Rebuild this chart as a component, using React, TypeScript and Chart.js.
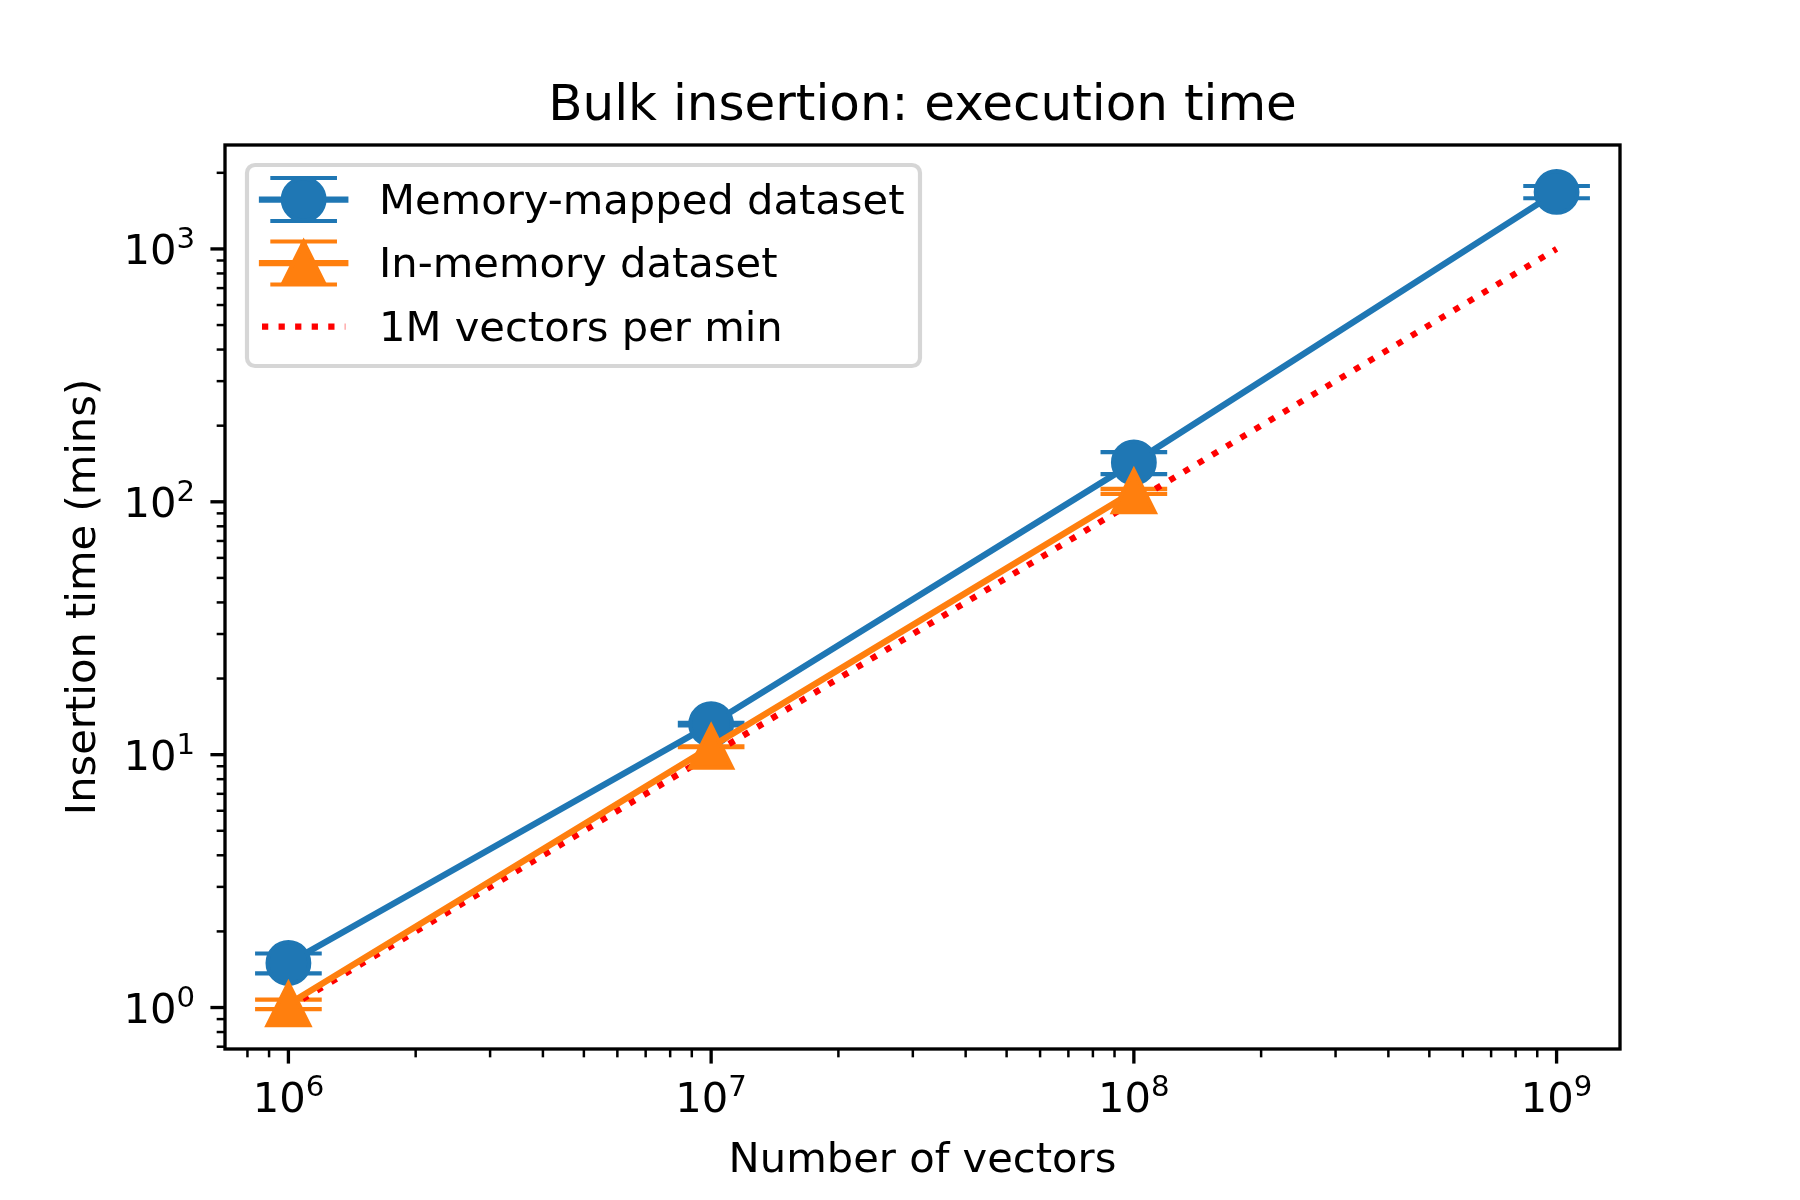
import { useEffect, useRef } from 'react';
import { Chart, registerables } from 'chart.js';

Chart.register(...registerables);

// ---- data ----
const vectorCounts = [1e6, 1e7, 1e8, 1e9];
const mmapMeans = [1.5, 13.2, 143, 1680];
const mmapErrs = [0.135, 0.15, 14.25, 93];
const inMemMeans = [1.03, 10.75, 110];
const inMemErrs = [0.045, 0.05, 2.5];
const refMinutes = [1, 10, 100, 1000];

const xMajorTicks = [1e6, 1e7, 1e8, 1e9];
const xTickExponents = ['6', '7', '8', '9'];
const yMajorTicks = [1, 10, 100, 1000];
const yTickExponents = ['0', '1', '2', '3'];

const seriesLabels = ['Memory-mapped dataset', 'In-memory dataset', '1M vectors per min'];
const titleText = 'Bulk insertion: execution time';
const xTitle = 'Number of vectors';
const yTitle = 'Insertion time (mins)';

// ---- style ----
const PT = 300 / 72;
const LW = 1.5 * PT;
const BLUE = '#1f77b4';
const ORANGE = '#ff7f0e';
const RED = '#ff0000';
const FONT = '"DejaVu Sans", sans-serif';
const FS = 10 * PT;
const FS_SUP = 7 * PT;
const MARKER_HALF = 5 * PT;
const CAP_HALF = 8 * PT;

const X_MIN = Math.pow(10, 5.85);
const X_MAX = Math.pow(10, 9.15);
const Y_MIN = Math.pow(10, -0.164);
const Y_MAX = Math.pow(10, 3.411);

function drawCircle(ctx: CanvasRenderingContext2D, x: number, y: number, color: string) {
  ctx.save();
  ctx.beginPath();
  ctx.arc(x, y, MARKER_HALF, 0, Math.PI * 2);
  ctx.fillStyle = color;
  ctx.strokeStyle = color;
  ctx.lineWidth = PT;
  ctx.fill();
  ctx.stroke();
  ctx.restore();
}

function drawTriangle(ctx: CanvasRenderingContext2D, x: number, y: number, color: string) {
  const h = MARKER_HALF;
  ctx.save();
  ctx.beginPath();
  ctx.moveTo(x, y - h);
  ctx.lineTo(x - h, y + h);
  ctx.lineTo(x + h, y + h);
  ctx.closePath();
  ctx.fillStyle = color;
  ctx.strokeStyle = color;
  ctx.lineWidth = PT;
  ctx.lineJoin = 'miter';
  ctx.fill();
  ctx.stroke();
  ctx.restore();
}

function drawErrorBar(ctx: CanvasRenderingContext2D, x: number, yTop: number, yBot: number, color: string) {
  ctx.save();
  ctx.strokeStyle = color;
  ctx.lineCap = 'butt';
  ctx.lineWidth = LW;
  ctx.beginPath();
  ctx.moveTo(x, yTop);
  ctx.lineTo(x, yBot);
  ctx.stroke();
  ctx.lineWidth = PT;
  ctx.beginPath();
  ctx.moveTo(x - CAP_HALF, yTop);
  ctx.lineTo(x + CAP_HALF, yTop);
  ctx.moveTo(x - CAP_HALF, yBot);
  ctx.lineTo(x + CAP_HALF, yBot);
  ctx.stroke();
  ctx.restore();
}

function drawPow(ctx: CanvasRenderingContext2D, exp: string, x: number, baseline: number, align: 'center' | 'right') {
  ctx.font = `${FS}px ${FONT}`;
  const w1 = ctx.measureText('10').width;
  ctx.font = `${FS_SUP}px ${FONT}`;
  const w2 = ctx.measureText(exp).width;
  const total = w1 + w2;
  const start = align === 'center' ? x - total / 2 : x - total;
  ctx.textAlign = 'left';
  ctx.textBaseline = 'alphabetic';
  ctx.fillStyle = '#000';
  ctx.font = `${FS}px ${FONT}`;
  ctx.fillText('10', start, baseline);
  ctx.font = `${FS_SUP}px ${FONT}`;
  ctx.fillText(exp, start + w1, baseline - 16);
}

const mplPlugin = {
  id: 'mplLook',
  beforeDraw(chart: any) {
    const ctx = chart.ctx as CanvasRenderingContext2D;
    ctx.save();
    ctx.fillStyle = '#ffffff';
    ctx.fillRect(0, 0, chart.width, chart.height);
    ctx.restore();
  },
  beforeDatasetsDraw(chart: any) {
    const ctx = chart.ctx as CanvasRenderingContext2D;
    const xs = chart.scales.x;
    const ys = chart.scales.y;
    mmapMeans.forEach((m, i) => {
      const px = xs.getPixelForValue(vectorCounts[i]);
      drawErrorBar(ctx, px, ys.getPixelForValue(m + mmapErrs[i]), ys.getPixelForValue(m - mmapErrs[i]), BLUE);
    });
    inMemMeans.forEach((m, i) => {
      const px = xs.getPixelForValue(vectorCounts[i]);
      drawErrorBar(ctx, px, ys.getPixelForValue(m + inMemErrs[i]), ys.getPixelForValue(m - inMemErrs[i]), ORANGE);
    });
  },
  afterDatasetDraw(chart: any, args: any) {
    const ctx = chart.ctx as CanvasRenderingContext2D;
    const xs = chart.scales.x;
    const ys = chart.scales.y;
    if (args.index === 0) {
      mmapMeans.forEach((m, i) => drawCircle(ctx, xs.getPixelForValue(vectorCounts[i]), ys.getPixelForValue(m), BLUE));
    } else if (args.index === 1) {
      inMemMeans.forEach((m, i) => drawTriangle(ctx, xs.getPixelForValue(vectorCounts[i]), ys.getPixelForValue(m), ORANGE));
    }
  },
  afterDraw(chart: any) {
    const ctx = chart.ctx as CanvasRenderingContext2D;
    const a = chart.chartArea;
    const xs = chart.scales.x;
    const ys = chart.scales.y;
    ctx.save();

    // spines
    ctx.strokeStyle = '#000';
    ctx.lineWidth = 0.8 * PT;
    ctx.lineJoin = 'miter';
    ctx.strokeRect(a.left, a.top, a.right - a.left, a.bottom - a.top);

    // ticks
    const majorLen = 3.5 * PT;
    const minorLen = 2 * PT;
    ctx.lineCap = 'butt';
    const xMin = xs.min, xMax = xs.max, yMin = ys.min, yMax = ys.max;
    for (let e = Math.floor(Math.log10(xMin)); e <= Math.ceil(Math.log10(xMax)); e++) {
      for (let k = 1; k <= 9; k++) {
        const v = k * Math.pow(10, e);
        if (v < xMin || v > xMax) continue;
        const px = xs.getPixelForValue(v);
        ctx.lineWidth = k === 1 ? 0.8 * PT : 0.6 * PT;
        ctx.beginPath();
        ctx.moveTo(px, a.bottom);
        ctx.lineTo(px, a.bottom + (k === 1 ? majorLen : minorLen));
        ctx.stroke();
      }
    }
    for (let e = Math.floor(Math.log10(yMin)); e <= Math.ceil(Math.log10(yMax)); e++) {
      for (let k = 1; k <= 9; k++) {
        const v = k * Math.pow(10, e);
        if (v < yMin || v > yMax) continue;
        const py = ys.getPixelForValue(v);
        ctx.lineWidth = k === 1 ? 0.8 * PT : 0.6 * PT;
        ctx.beginPath();
        ctx.moveTo(a.left, py);
        ctx.lineTo(a.left - (k === 1 ? majorLen : minorLen), py);
        ctx.stroke();
      }
    }

    // tick labels
    xMajorTicks.forEach((v, i) => {
      drawPow(ctx, xTickExponents[i], xs.getPixelForValue(v), a.bottom + 63, 'center');
    });
    yMajorTicks.forEach((v, i) => {
      drawPow(ctx, yTickExponents[i], a.left - 30, ys.getPixelForValue(v) + 15, 'right');
    });

    // titles
    const cx = (a.left + a.right) / 2;
    const cy = (a.top + a.bottom) / 2;
    ctx.fillStyle = '#000';
    ctx.textAlign = 'center';
    ctx.textBaseline = 'alphabetic';
    ctx.font = `${12 * PT}px ${FONT}`;
    ctx.fillText(titleText, cx, 120);
    ctx.font = `${FS}px ${FONT}`;
    ctx.fillText(xTitle, cx, 1172);
    ctx.save();
    ctx.translate(95, cy);
    ctx.rotate(-Math.PI / 2);
    ctx.fillText(yTitle, 0, 0);
    ctx.restore();

    // legend
    const lx = 247, ly = 165, lw = 673, lh = 201, r = 8;
    ctx.beginPath();
    ctx.moveTo(lx + r, ly);
    ctx.lineTo(lx + lw - r, ly);
    ctx.arcTo(lx + lw, ly, lx + lw, ly + r, r);
    ctx.lineTo(lx + lw, ly + lh - r);
    ctx.arcTo(lx + lw, ly + lh, lx + lw - r, ly + lh, r);
    ctx.lineTo(lx + r, ly + lh);
    ctx.arcTo(lx, ly + lh, lx, ly + lh - r, r);
    ctx.lineTo(lx, ly + r);
    ctx.arcTo(lx, ly, lx + r, ly, r);
    ctx.closePath();
    ctx.fillStyle = 'rgba(255,255,255,0.8)';
    ctx.fill();
    ctx.strokeStyle = 'rgba(204,204,204,0.8)';
    ctx.lineWidth = PT;
    ctx.stroke();

    const hx0 = 262, hx1 = 345.3, hcx = (hx0 + hx1) / 2;
    const rows = [199.5, 263, 326.5];
    const colors = [BLUE, ORANGE, RED];
    rows.forEach((ry, i) => {
      const color = colors[i];
      if (i < 2) {
        drawErrorBar(ctx, hcx, ry - 21.5, ry + 21.5, color);
        ctx.save();
        ctx.strokeStyle = color;
        ctx.lineWidth = LW;
        ctx.lineCap = 'square';
        ctx.beginPath();
        ctx.moveTo(hx0, ry);
        ctx.lineTo(hx1, ry);
        ctx.stroke();
        ctx.restore();
        if (i === 0) drawCircle(ctx, hcx, ry, color);
        else drawTriangle(ctx, hcx, ry, color);
      } else {
        ctx.save();
        ctx.strokeStyle = color;
        ctx.lineWidth = LW;
        ctx.lineCap = 'butt';
        ctx.setLineDash([LW, LW * 1.65]);
        ctx.beginPath();
        ctx.moveTo(hx0, ry);
        ctx.lineTo(hx1, ry);
        ctx.stroke();
        ctx.restore();
      }
      ctx.fillStyle = '#000';
      ctx.font = `${FS}px ${FONT}`;
      ctx.textAlign = 'left';
      ctx.textBaseline = 'alphabetic';
      ctx.fillText(seriesLabels[i], 379, ry + 14);
    });

    ctx.restore();
  },
};

export default function App() {
  const ref = useRef<HTMLCanvasElement>(null);
  useEffect(() => {
    document.body.style.margin = '0';
    const canvas = ref.current!;
    const chart = new Chart(canvas, {
      type: 'line',
      data: {
        datasets: [
          {
            label: seriesLabels[0],
            data: vectorCounts.map((x, i) => ({ x, y: mmapMeans[i] })),
            borderColor: BLUE,
            backgroundColor: BLUE,
            borderWidth: LW,
            pointRadius: 0,
            borderJoinStyle: 'round',
            borderCapStyle: 'square',
            tension: 0,
            fill: false,
            order: 2,
          },
          {
            label: seriesLabels[1],
            data: inMemMeans.map((y, i) => ({ x: vectorCounts[i], y })),
            borderColor: ORANGE,
            backgroundColor: ORANGE,
            borderWidth: LW,
            pointRadius: 0,
            borderJoinStyle: 'round',
            borderCapStyle: 'square',
            tension: 0,
            fill: false,
            order: 1,
          },
          {
            label: seriesLabels[2],
            data: vectorCounts.map((x, i) => ({ x, y: refMinutes[i] })),
            borderColor: RED,
            backgroundColor: RED,
            borderWidth: LW,
            borderDash: [LW, LW * 1.65],
            borderCapStyle: 'butt',
            pointRadius: 0,
            tension: 0,
            fill: false,
            order: 3,
          },
        ],
      } as any,
      options: {
        responsive: false,
        animation: false,
        devicePixelRatio: 1,
        events: [],
        layout: { padding: { left: 225, top: 145, right: 180, bottom: 151 } },
        scales: {
          x: { type: 'logarithmic', min: X_MIN, max: X_MAX, display: false, bounds: 'data' },
          y: { type: 'logarithmic', min: Y_MIN, max: Y_MAX, display: false, bounds: 'data' },
        },
        plugins: {
          legend: { display: false },
          tooltip: { enabled: false },
          title: { display: false },
        },
      } as any,
      plugins: [mplPlugin],
    });
    return () => chart.destroy();
  }, []);
  return <canvas ref={ref} width={1800} height={1200} style={{ display: 'block', width: 1800, height: 1200 }} />;
}
